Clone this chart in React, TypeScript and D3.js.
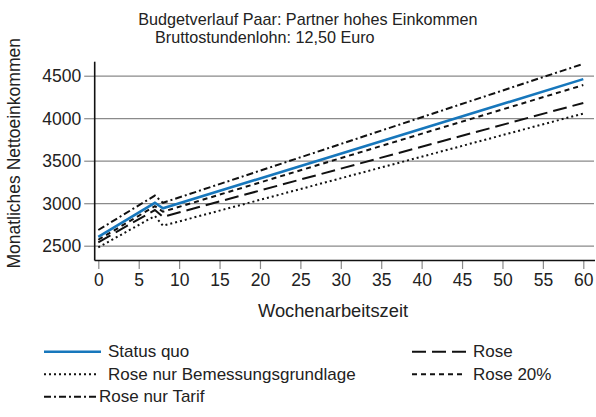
import React, { useEffect, useRef } from 'react'
import * as d3 from 'd3'

// Wochenarbeitszeit (hours per week) where the curves change direction
const hours = [0, 7, 8, 60]

// monthly net income per scenario
const statusQuo = [2605, 3005, 2940, 4460]
const rose = [2540, 2920, 2840, 4180]
const roseBemessung = [2480, 2850, 2735, 4055]
const rose20 = [2570, 2965, 2900, 4390]
const roseTarif = [2685, 3090, 3005, 4640]

const seriesNames = ['Status quo', 'Rose', 'Rose nur Bemessungsgrundlage', 'Rose 20%', 'Rose nur Tarif']
const seriesValues = [statusQuo, rose, roseBemessung, rose20, roseTarif]

const xTicks = [0, 5, 10, 15, 20, 25, 30, 35, 40, 45, 50, 55, 60]
const yTicks = [2500, 3000, 3500, 4000, 4500]

const titleLines = ['Budgetverlauf Paar: Partner hohes Einkommen', 'Bruttostundenlohn: 12,50 Euro']
const xLabel = 'Wochenarbeitszeit'
const yLabel = 'Monatliches Nettoeinkommen'

const lineStyle: Record<string, { color: string; width: number; dash: string | null }> = {
  'Status quo': { color: '#1777bc', width: 2.6, dash: null },
  'Rose': { color: '#111', width: 2, dash: '14,6' },
  'Rose nur Bemessungsgrundlage': { color: '#111', width: 2, dash: '2,3' },
  'Rose 20%': { color: '#111', width: 2, dash: '5,4' },
  'Rose nur Tarif': { color: '#111', width: 2, dash: '7,3,2,3' },
}

// legend placement, same order as seriesNames
const legendPos = [
  { x1: 44, x2: 101, y: 351.7, tx: 108 },
  { x1: 412, x2: 466, y: 351.7, tx: 473 },
  { x1: 44, x2: 98, y: 374.3, tx: 108 },
  { x1: 412, x2: 466, y: 374.3, tx: 473 },
  { x1: 44, x2: 97, y: 396.7, tx: 99 },
]

const FONT = '"Liberation Sans", Arial, Helvetica, sans-serif'
const W = 596
const H = 417

export default function App() {
  const ref = useRef<SVGSVGElement>(null)

  useEffect(() => {
    const svg = d3.select(ref.current)
    svg.selectAll('*').remove()

    const left = 94.7
    const right = 595
    const top = 61.7
    const bottom = 260.5

    const x = d3.scaleLinear().domain([0, 60]).range([98.3, 583.3])
    const y = d3.scaleLinear().domain([2326, 4665]).range([bottom, top])

    // grid
    svg.append('g')
      .attr('transform', `translate(${left},0)`)
      .call(d3.axisLeft(y).tickValues(yTicks).tickSize(-(right - 1 - left)).tickFormat(() => ''))
      .call(g => g.select('.domain').remove())
      .call(g => g.selectAll('line').attr('stroke', '#8a8a8a').attr('stroke-width', 1.2))

    // y axis ticks + labels
    svg.append('g')
      .attr('transform', `translate(${left},0)`)
      .call(d3.axisLeft(y).tickValues(yTicks).tickSize(10.5).tickPadding(3).tickFormat(d => String(d)))
      .call(g => g.select('.domain').remove())
      .call(g => g.selectAll('line').attr('stroke', '#8a8a8a').attr('stroke-width', 1.2))
      .call(g => g.selectAll('text')
        .attr('font-family', FONT).attr('font-size', 17.5).attr('fill', '#222')
        .attr('dy', '0.34em'))

    // x axis ticks + labels
    svg.append('g')
      .attr('transform', `translate(0,${bottom})`)
      .call(d3.axisBottom(x).tickValues(xTicks).tickSize(8.5).tickPadding(5).tickFormat(d => String(d)))
      .call(g => g.select('.domain').remove())
      .call(g => g.selectAll('line').attr('stroke', '#8a8a8a').attr('stroke-width', 1.2))
      .call(g => g.selectAll('text')
        .attr('font-family', FONT).attr('font-size', 17.5).attr('fill', '#222'))

    // axis lines
    svg.append('line')
      .attr('x1', left).attr('x2', left).attr('y1', top).attr('y2', bottom)
      .attr('stroke', '#111').attr('stroke-width', 1.6)
    svg.append('line')
      .attr('x1', left).attr('x2', right).attr('y1', bottom).attr('y2', bottom)
      .attr('stroke', '#111').attr('stroke-width', 1.6)

    const line = d3.line<number>()
      .x((_, i) => x(hours[i]))
      .y(d => y(d))

    // black series first, blue on top
    const order = [4, 3, 1, 2, 0]
    order.forEach(i => {
      const st = lineStyle[seriesNames[i]]
      svg.append('path')
        .datum(seriesValues[i])
        .attr('d', line)
        .attr('fill', 'none')
        .attr('stroke', st.color)
        .attr('stroke-width', st.width)
        .attr('stroke-dasharray', st.dash)
    })

    // title
    svg.append('text')
      .attr('x', 138.3).attr('y', 24.5)
      .attr('font-family', FONT).attr('font-size', 16.2).attr('fill', '#222')
      .text(titleLines[0])
    svg.append('text')
      .attr('x', 155).attr('y', 42.7)
      .attr('font-family', FONT).attr('font-size', 16.2).attr('fill', '#222')
      .text(titleLines[1])

    // axis titles
    svg.append('text')
      .attr('x', 333).attr('y', 316.7)
      .attr('text-anchor', 'middle')
      .attr('font-family', FONT).attr('font-size', 18.3).attr('fill', '#222')
      .text(xLabel)
    svg.append('text')
      .attr('transform', 'translate(20,153.3) rotate(-90)')
      .attr('text-anchor', 'middle')
      .attr('font-family', FONT).attr('font-size', 17.5).attr('fill', '#222')
      .text(yLabel)

    // legend
    const lg = svg.append('g')
    seriesNames.forEach((name, i) => {
      const st = lineStyle[name]
      const p = legendPos[i]
      lg.append('line')
        .attr('x1', p.x1).attr('x2', p.x2).attr('y1', p.y).attr('y2', p.y)
        .attr('stroke', st.color)
        .attr('stroke-width', st.width)
        .attr('stroke-dasharray', st.dash)
      lg.append('text')
        .attr('x', p.tx).attr('y', p.y + 5.5)
        .attr('font-family', FONT).attr('font-size', 17).attr('fill', '#222')
        .text(name)
    })
  }, [])

  return (
    <svg
      ref={ref}
      width={W}
      height={H}
      style={{ position: 'absolute', left: 0, top: 0, background: '#fff' }}
    />
  )
}
